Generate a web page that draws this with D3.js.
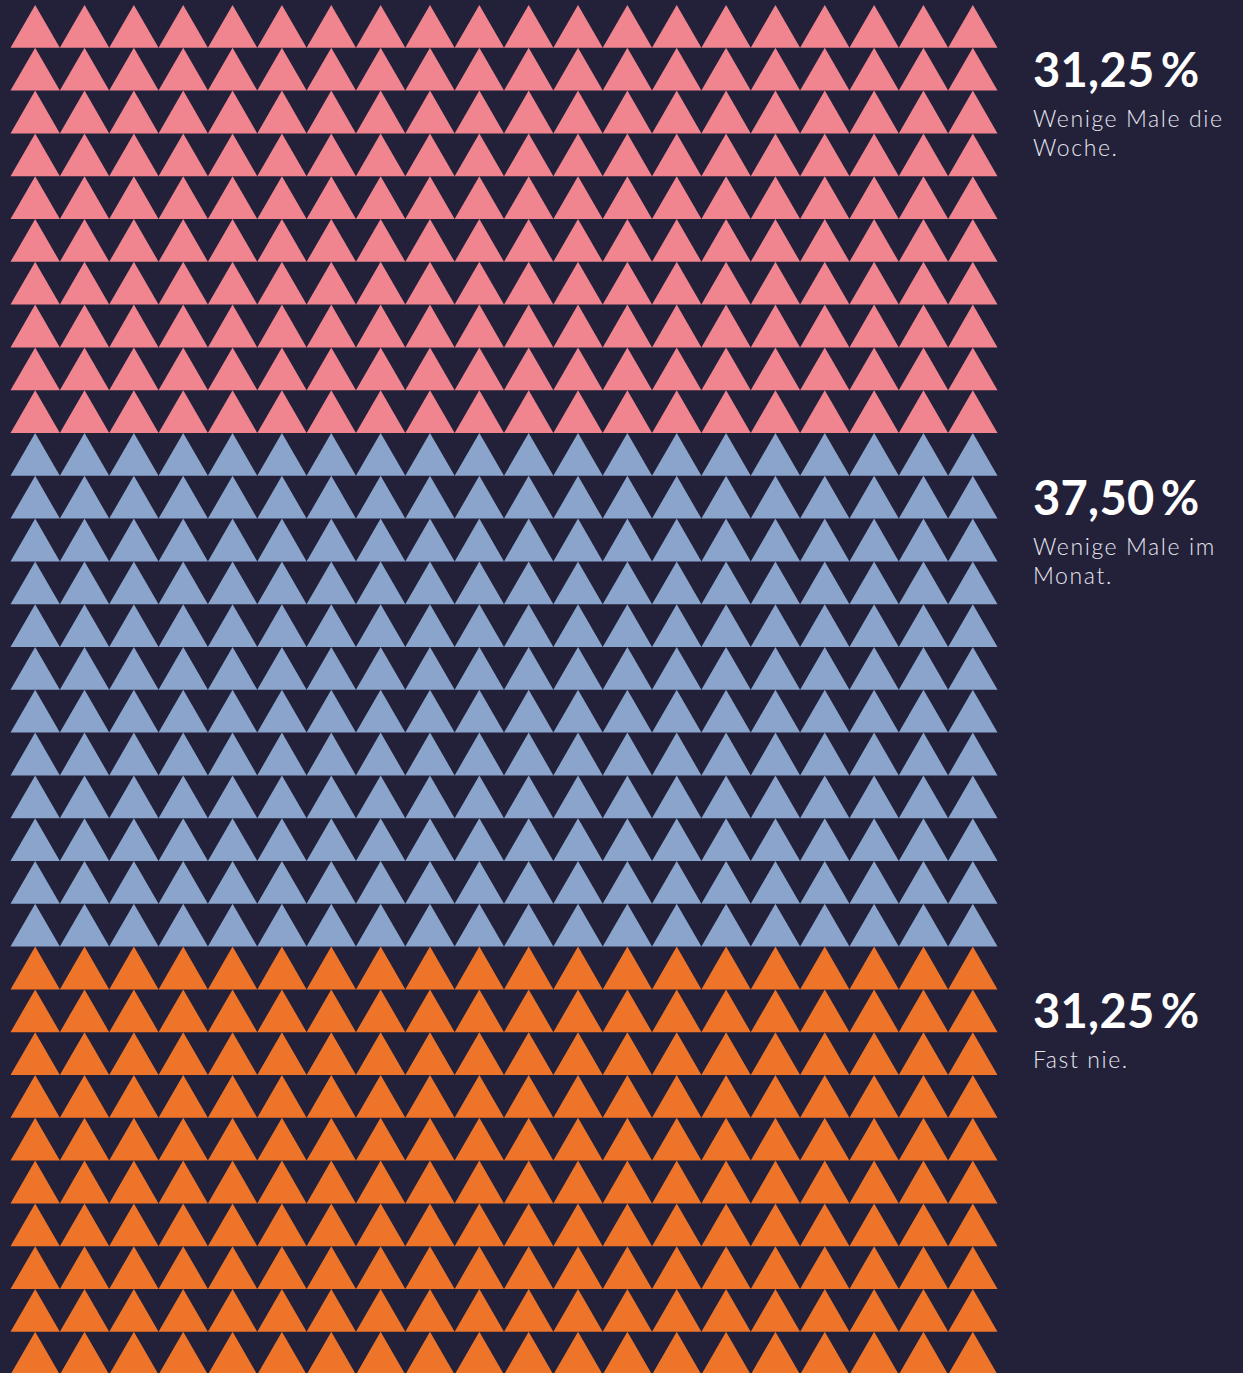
<!DOCTYPE html>
<html>
<head>
<meta charset="utf-8">
<script src="https://cdn.jsdelivr.net/npm/d3@7"></script>
<style>
  html, body { margin: 0; padding: 0; background: #23213a; overflow: hidden; }
  svg { display: block; }
</style>
</head>
<body>
<div id="chart"></div>
<script>
// data
const categories = ['Wenige Male die Woche.', 'Wenige Male im Monat.', 'Fast nie.']
const labelLines = [['Wenige Male die', 'Woche.'], ['Wenige Male im', 'Monat.'], ['Fast nie.']]
const values = [31.25, 37.50, 31.25]
const colors = ['#f0848f', '#8aa4cb', '#ee742a']

// chart setting
const chart = { width: 1243, height: 1373 }
const nCols = 20
const nRows = 32

const grid = { left: 10.5, right: 997.5, top: 5, rowH: 42.8 }

// build cells: each category gets rows in proportion to its share
const rowsPer = values.map(v => Math.round(v / 100 * nRows))
const cells = []
let rowStart = []
let r0 = 0
rowsPer.forEach((n, i) => {
  rowStart.push(r0)
  for (let r = r0; r < r0 + n; r++) {
    for (let c = 0; c < nCols; c++) cells.push({ row: r, col: c, cat: i })
  }
  r0 += n
})

const xScale = d3.scaleBand()
  .domain(d3.range(nCols))
  .range([grid.left, grid.right])

const yScale = d3.scaleBand()
  .domain(d3.range(nRows))
  .range([grid.top, grid.top + nRows * grid.rowH])

const svg = d3.select('#chart')
  .append('svg')
  .attr('width', chart.width)
  .attr('height', chart.height)

svg.append('rect')
  .attr('width', chart.width)
  .attr('height', chart.height)
  .attr('fill', '#23213a')

// triangles
svg.append('g')
  .selectAll('path')
  .data(cells)
  .join('path')
  .attr('d', d => {
    const x0 = xScale(d.col), w = xScale.bandwidth()
    const y0 = yScale(d.row), h = yScale.bandwidth()
    return `M${x0},${y0 + h}L${x0 + w / 2},${y0}L${x0 + w},${y0 + h}Z`
  })
  .attr('fill', d => colors[d.cat])

// labels
const fmt = v => d3.format('.2f')(v).replace('.', ',') + '\u2009%'

const labels = svg.append('g')
  .selectAll('g')
  .data(categories)
  .join('g')
  .attr('transform', (d, i) => `translate(1033, ${yScale(rowStart[i]) + 81.5})`)

labels.append('text')
  .text((d, i) => fmt(values[i]))
  .attr('fill', '#ffffff')
  .attr('font-family', 'Lato, sans-serif')
  .attr('font-weight', 700)
  .attr('font-size', '47px')
  .attr('letter-spacing', '0.3px')

labels.append('text')
  .attr('fill', '#e6e6ee')
  .attr('font-family', 'Lato, sans-serif')
  .attr('font-weight', 300)
  .attr('font-size', '23px')
  .attr('letter-spacing', '1.6px')
  .selectAll('tspan')
  .data((d, i) => labelLines[i])
  .join('tspan')
  .attr('x', 0)
  .attr('y', (d, j) => 40 + j * 29)
  .text(d => d)
</script>
</body>
</html>
